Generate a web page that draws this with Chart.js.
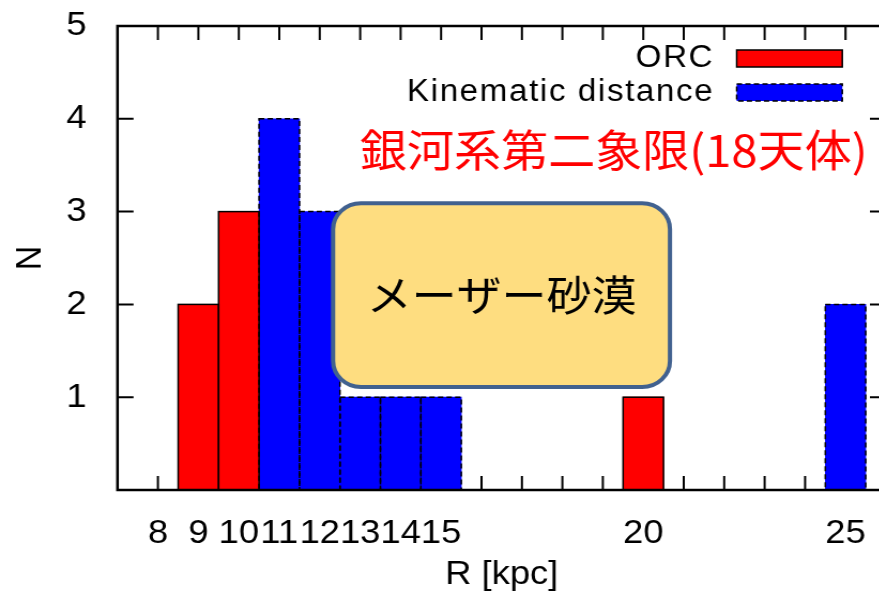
<!DOCTYPE html>
<html>
<head>
<meta charset="utf-8">
<script src="https://cdn.jsdelivr.net/npm/chart.js@4/dist/chart.umd.min.js"></script>
<style>
  html, body { margin: 0; padding: 0; overflow: hidden; background: #fff; }
  /* the reference is a little wider than tall, so stretch the drawing sideways */
  #wrap { width: 850px; height: 594px; transform: scaleX(1.07); transform-origin: 0 0; }
</style>
</head>
<body>
<div id="wrap"><canvas id="chart" width="850" height="594"></canvas></div>
<script>
const xLabels = [8, 9, 10, 11, 12, 13, 14, 15, 20, 25];
const orcR = [9, 10, 20];
const orcN = [2, 3, 1];
const kinR = [11, 12, 13, 14, 15, 25];
const kinN = [4, 3, 1, 1, 1, 2];
const seriesNames = ['ORC', 'Kinematic distance'];
const seriesColors = ['#ff0000', '#0000ff'];
const noteText = '銀河系第二象限(18天体)';
const boxText = 'メーザー砂漠';
// yellow call-out box, in data units
const boxArea = { x0: 12.33, x1: 20.66, y0: 1.11, y1: 3.09 };

const latin = '"Liberation Sans", Arial, sans-serif';
const cjk = '"Noto Sans CJK JP", sans-serif';

const decor = {
  id: 'decor',
  beforeDatasetsDraw(chart) {
    // gnuplot style ticks pointing into the plot, on all four sides
    const { ctx, chartArea: a, scales: { x, y } } = chart;
    ctx.save();
    ctx.strokeStyle = '#000';
    ctx.lineWidth = 2;
    ctx.beginPath();
    x.ticks.forEach(t => {
      if (t.value <= x.min || t.value >= x.max) return;
      const px = x.getPixelForValue(t.value);
      ctx.moveTo(px, a.bottom); ctx.lineTo(px, a.bottom - 14);
      ctx.moveTo(px, a.top); ctx.lineTo(px, a.top + 14);
    });
    y.ticks.forEach(t => {
      if (t.value <= y.min || t.value >= y.max) return;
      const py = y.getPixelForValue(t.value);
      ctx.moveTo(a.left, py); ctx.lineTo(a.left + 15, py);
      ctx.moveTo(a.right, py); ctx.lineTo(a.right - 15, py);
    });
    ctx.stroke();
    ctx.restore();
  },
  afterDatasetsDraw(chart) {
    const { ctx, chartArea: a, scales: { x, y } } = chart;
    ctx.save();
    ctx.strokeStyle = '#000';
    ctx.lineWidth = 1.5;
    chart.data.datasets.forEach((ds, i) => {
      ctx.setLineDash(i === 1 ? [5, 3] : []);
      chart.getDatasetMeta(i).data.forEach(bar => {
        const p = bar.getProps(['x', 'y', 'base', 'width'], true);
        ctx.strokeRect(p.x - p.width / 2, p.y, p.width, p.base - p.y);
      });
    });
    ctx.setLineDash([]);
    ctx.lineWidth = 2.5;
    ctx.strokeRect(a.left, a.top, a.right - a.left, a.bottom - a.top);

    // call-out box
    const bx0 = x.getPixelForValue(boxArea.x0), bx1 = x.getPixelForValue(boxArea.x1);
    const by0 = y.getPixelForValue(boxArea.y1), by1 = y.getPixelForValue(boxArea.y0);
    ctx.beginPath();
    ctx.roundRect(bx0, by0, bx1 - bx0, by1 - by0, 26);
    ctx.fillStyle = '#fedd80';
    ctx.fill();
    ctx.lineWidth = 4;
    ctx.strokeStyle = '#41618f';
    ctx.stroke();
    ctx.fillStyle = '#000';
    ctx.font = '42px ' + cjk;
    ctx.textAlign = 'center';
    ctx.textBaseline = 'middle';
    ctx.fillText(boxText, (bx0 + bx1) / 2, (by0 + by1) / 2);
    ctx.restore();
  },
  afterDraw(chart) {
    const { ctx } = chart;
    ctx.save();
    // legend, text on the left and sample on the right
    ctx.font = '31px ' + latin;
    ctx.letterSpacing = '1.5px';
    ctx.textAlign = 'right';
    ctx.textBaseline = 'middle';
    chart.data.datasets.forEach((ds, i) => {
      const cy = 58.5 + i * 34;
      ctx.fillStyle = '#000';
      ctx.fillText(ds.label, 667.5, cy);
      ctx.fillStyle = ds.backgroundColor;
      ctx.fillRect(688.5, cy - 8.5, 98.7, 17);
      ctx.strokeStyle = '#000';
      ctx.lineWidth = 1.5;
      ctx.setLineDash(i === 1 ? [5, 3] : []);
      ctx.strokeRect(688.5, cy - 8.5, 98.7, 17);
    });
    ctx.setLineDash([]);
    ctx.letterSpacing = '0px';
    ctx.fillStyle = '#ff0000';
    ctx.font = '44px ' + cjk;
    ctx.textAlign = 'center';
    ctx.fillText(noteText, 573.5, 150);
    ctx.restore();
  }
};

new Chart(document.getElementById('chart'), {
  type: 'bar',
  data: {
    datasets: [
      {
        label: seriesNames[0],
        data: orcR.map((r, i) => ({ x: r, y: orcN[i] })),
        backgroundColor: seriesColors[0]
      },
      {
        label: seriesNames[1],
        data: kinR.map((r, i) => ({ x: r, y: kinN[i] })),
        backgroundColor: seriesColors[1]
      }
    ]
  },
  options: {
    responsive: false,
    animation: false,
    events: [],
    layout: { padding: { top: 26, left: 0, right: 22, bottom: 0 } },
    datasets: {
      bar: { grouped: false, categoryPercentage: 1, barPercentage: 1, borderWidth: 0 }
    },
    plugins: { legend: { display: false }, tooltip: { enabled: false } },
    scales: {
      x: {
        type: 'linear',
        min: 7,
        max: 26,
        offset: false,
        grid: { display: false, offset: false },
        border: { display: false },
        ticks: {
          stepSize: 1,
          autoSkip: false,
          maxRotation: 0,
          padding: 15,
          color: '#000',
          font: { family: latin, size: 34 },
          callback: v => (xLabels.includes(v) ? String(v) : '')
        },
        title: {
          display: true,
          text: 'R [kpc]',
          color: '#000',
          font: { family: latin, size: 34, lineHeight: 1 },
          padding: { top: 0, bottom: 2 }
        },
        afterFit: s => { s.height = 104; s.paddingLeft = 0; s.paddingRight = 0; }
      },
      y: {
        min: 0,
        max: 5,
        grid: { display: false },
        border: { display: false },
        ticks: {
          stepSize: 1,
          padding: 21,
          color: '#000',
          font: { family: latin, size: 34 },
          callback: v => (v === 0 ? '' : String(v))
        },
        title: {
          display: true,
          text: 'N',
          color: '#000',
          font: { family: latin, size: 34, lineHeight: 1 },
          padding: { top: 12, bottom: 0 }
        },
        afterFit: s => { s.width = 109.8; s.paddingTop = 0; s.paddingBottom = 0; }
      }
    }
  },
  plugins: [decor]
});
</script>
</body>
</html>
